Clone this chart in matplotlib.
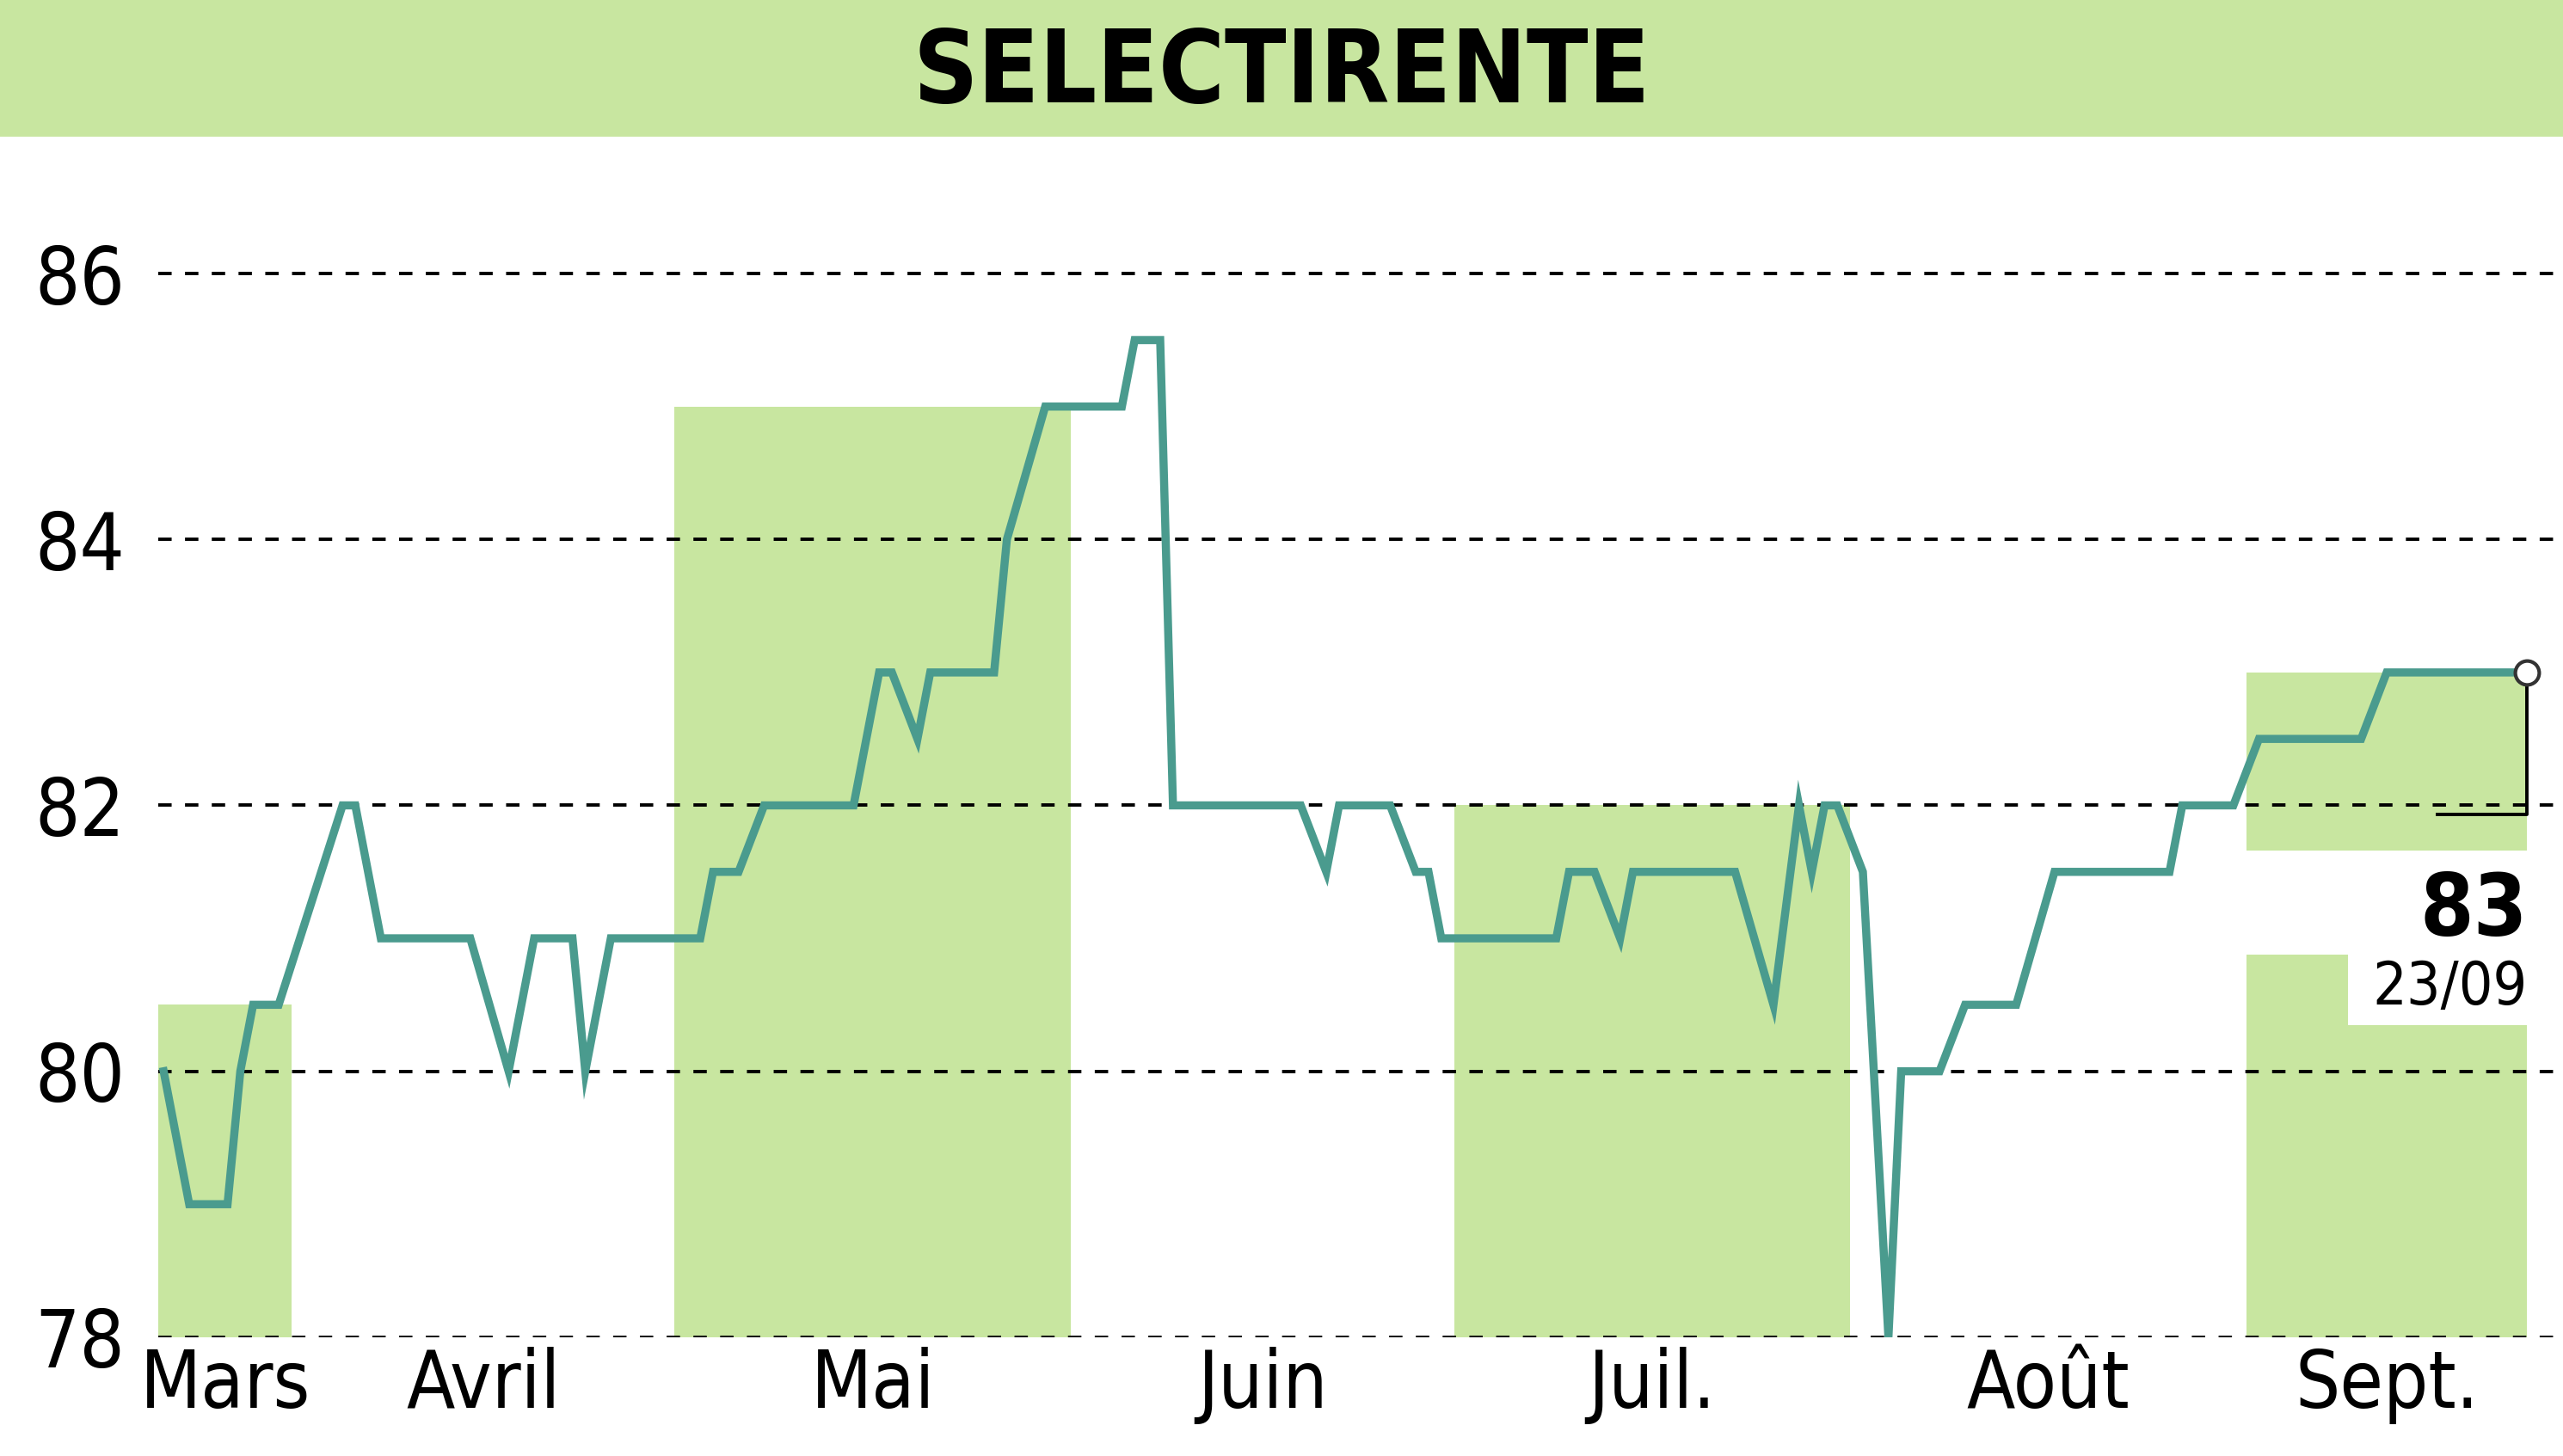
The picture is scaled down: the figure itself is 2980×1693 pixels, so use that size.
import matplotlib
matplotlib.use("Agg")
import matplotlib.pyplot as plt
import matplotlib.dates as mdates
import pandas as pd
from matplotlib.patches import Rectangle

dates = ["03-22","03-24","03-27","03-28","03-29","03-31","04-05","04-06","04-08","04-15",
         "04-18","04-20","04-23","04-24","04-26","05-03","05-04","05-06","05-08","05-15",
         "05-17","05-18","05-20","05-21","05-26","05-27","05-30","06-05","06-06","06-08",
         "06-09","06-19","06-21","06-22","06-26","06-28","06-29","06-30","07-09","07-10",
         "07-12","07-14","07-15","07-23","07-26","07-28","07-29","07-30","07-31","08-02",
         "08-04","08-05","08-08","08-10","08-14","08-17","08-26","08-27","08-31","09-02",
         "09-10","09-12","09-23"]
values = [80,79,79,80,80.5,80.5,82,82,81,81,
          80,81,81,80,81,81,81.5,81.5,82,82,
          83,83,82.5,83,83,84,85,85,85.5,85.5,
          82,82,81.5,82,82,81.5,81.5,81,81,81.5,
          81.5,81,81.5,81.5,80.5,82,81.5,82,82,81.5,
          78,80,80,80.5,80.5,81.5,81.5,82,82,82.5,
          82.5,83,83]
month_labels = ["Mars","Avril","Mai","Juin","Juil.","Août","Sept."]
month_starts = ["03-01","04-01","05-01","06-01","07-01","08-01","09-01"]
yticks = [78,80,82,84,86]
title = "SELECTIRENTE"
last_label = "83"
last_date = "23/09"

Y = "2023-"
s = pd.Series(values, index=pd.to_datetime([Y+d for d in dates]))
ms = pd.to_datetime([Y+d for d in month_starts])

fam = ["DejaVu Sans"]
st = "condensed"
teal = "#4a9b8e"; green = "#c8e6a0"

fig = plt.figure(figsize=(14.9, 8.465), dpi=200)
fig.patches.append(Rectangle((0, 1-82/882), 1, 82/882, transform=fig.transFigure, color=green, zorder=0))
fig.text(0.5, 1-45/882, title, ha="center", va="center", fontsize=42, fontweight="bold", family=fam, fontstretch=st)

ax = fig.add_axes([97/1568, 1-810/882, 1471/1568, 728/882])
x0 = s.index[0] - pd.Timedelta(days=0.4)
ax.set_xlim(x0, s.index[-1] + pd.Timedelta(days=2.8))
ax.set_ylim(78, 87.04)
for sp in ax.spines.values():
    sp.set_visible(False)

bounds = [x0] + list(ms[1:]) + [s.index[-1]]
for i in range(0, 7, 2):
    a, b = bounds[i], bounds[i+1]
    seg = s[(s.index >= a) & (s.index < b + pd.Timedelta(days=1))]
    ax.fill_between([a, b], 78, seg.max(), color=green, lw=0, zorder=1)

for yv in yticks:
    ax.axhline(yv, color="black", ls=(0, (4, 4)), lw=1.4, zorder=2)

ax.plot(s.index, s.values, color=teal, lw=3.4, zorder=4, solid_joinstyle="miter")

ax.add_patch(Rectangle((mdates.date2num(ms[6]) - 0.5, 80.88), 30, 0.78, color="white", zorder=3, lw=0))
ax.add_patch(Rectangle((mdates.date2num(pd.Timestamp(Y+"09-09")), 80.35), 30, 0.6, color="white", zorder=3, lw=0))
end = s.index[-1]
ax.plot([end, end, pd.Timestamp(Y+"09-16")], [s.values[-1], 81.93, 81.93], color="black", lw=1.4, zorder=5)
ax.plot([end], [s.values[-1]], "o", ms=10, mfc="white", mec="#333333", mew=1.5, zorder=6)
ax.text(end, 81.2, last_label, ha="right", va="center", fontsize=36, fontweight="bold", family=fam, fontstretch=st, zorder=6)
ax.text(end, 80.63, last_date, ha="right", va="center", fontsize=25, family=fam, fontstretch=st, zorder=6)

ax.set_yticks(yticks)
ax.set_yticklabels([str(v) for v in yticks], family=fam, fontsize=33, fontstretch=st)
ax.tick_params(axis="y", length=0, pad=14)
centers = [bounds[i] + (bounds[i+1]-bounds[i])/2 for i in range(7)]
ax.set_xticks(centers)
ax.set_xticklabels(month_labels, family=fam, fontsize=33, fontstretch=st)
ax.tick_params(axis="x", length=0, pad=4)

fig.savefig("out.png", dpi=200)
